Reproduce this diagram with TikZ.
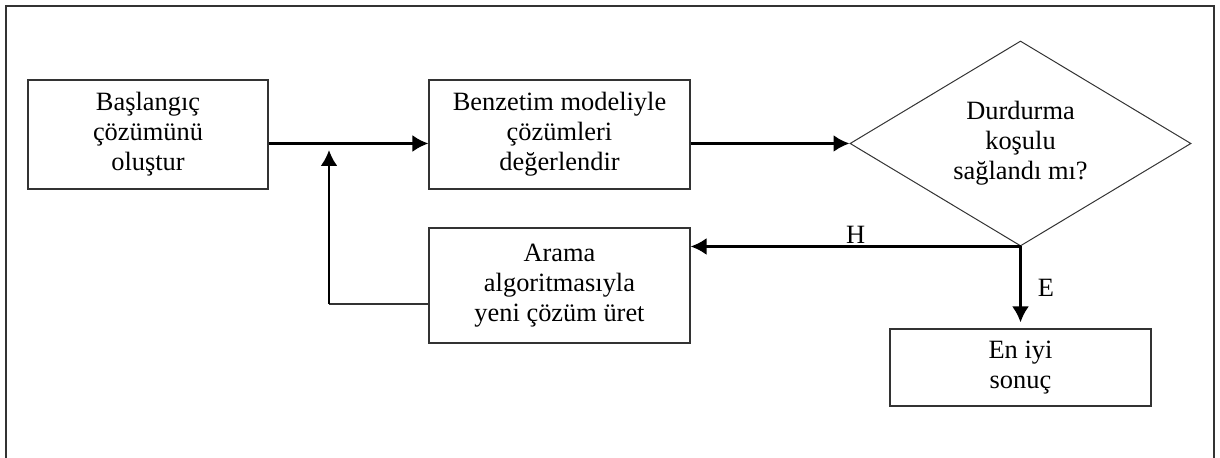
\documentclass[tikz,border=0pt]{standalone}
\usepackage{fontspec}
\setmainfont{Liberation Serif}
\usetikzlibrary{arrows.meta,shapes.geometric}

\begin{document}
\begin{tikzpicture}[x=0.5pt,y=-0.5pt,
  >={Latex[length=8pt,width=8.5pt]},
  every node/.style={font=\fontsize{13.2}{15}\selectfont},
  kutu/.style={rectangle, draw=black!80, line width=0.6pt,
    align=center, inner sep=0pt},
  karar/.style={diamond, aspect=1.66, draw=black!80, line width=0.5pt,
    align=center, inner sep=0pt,
    minimum width=170.5pt, minimum height=102.5pt},
  ok/.style={->, line width=1.3pt},
  etiket/.style={inner sep=1pt}
  ]
  %
  \useasboundingbox (0,0) rectangle (1220,458);
  \draw[black!80, line width=1.2pt] (6,480) -- (6,6) -- (1214,6) -- (1214,480);

  \node[kutu, minimum width=120pt, minimum height=54.5pt] (B1) at (148,134.5)
    {Başlangıç\\çözümünü\\oluştur};
  \node[kutu, minimum width=130.5pt, minimum height=54.5pt] (B2) at (559.5,134.5)
    {Benzetim modeliyle\\çözümleri\\değerlendir};
  \node[karar] (D) at (1020.5,143.5)
    {Durdurma\\koşulu\\sağlandı mı?};
  \node[kutu, minimum width=130.5pt, minimum height=57.5pt] (B3) at (559.5,285.5)
    {Arama\\algoritmasıyla\\yeni çözüm üret};
  \node[kutu, minimum width=130.5pt, minimum height=38.5pt] (B4) at (1020.5,367.5)
    {En iyi\\sonuç};

  \draw[ok] (B1.east |- D.west) -- (B2.west |- D.west);
  \draw[ok] (B2.east |- D.west) -- (D.west);
  \draw[ok] (D.south) -- node[etiket, above] {H} (B3.east |- D.south);
  \draw[ok, shorten >=3pt] (D.south) -- node[etiket, right=7pt] {E} (B4.north);

  % geri besleme
  \coordinate (J) at (329,144);
  \coordinate (R) at ([yshift=-9.25pt]B3.west);
  \draw[line width=0.6pt, black!80] (R) -- (R -| J);
  \draw[ok] (R -| J) -- ([yshift=-3pt]J);

\end{tikzpicture}
\end{document}
